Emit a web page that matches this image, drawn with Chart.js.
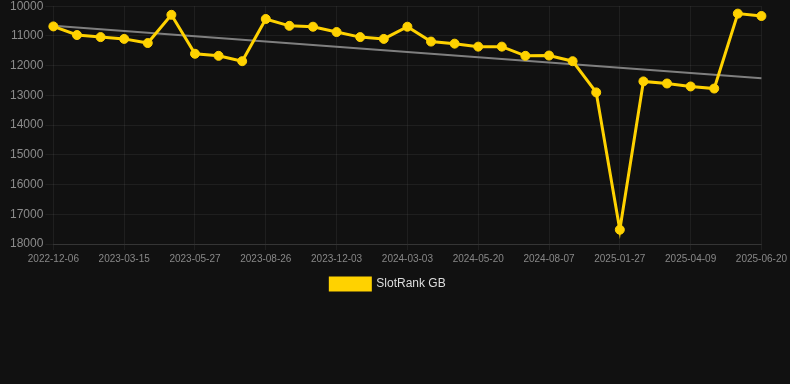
<!DOCTYPE html>
<html><head><meta charset="utf-8">
<script src="https://cdn.jsdelivr.net/npm/chart.js@4"></script>
<style>html,body{margin:0;padding:0;background:#111111;overflow:hidden;}#wrap{width:790px;height:303px;position:relative;top:-3px;}</style>
</head><body>
<div id="wrap"><canvas id="c"></canvas></div>
<script>
const labels = ["2022-12-06","2023-01-08","2023-02-10","2023-03-15","2023-04-08","2023-05-02","2023-05-27","2023-06-26","2023-07-26","2023-08-26","2023-09-28","2023-10-31","2023-12-03","2024-01-03","2024-02-02","2024-03-03","2024-03-29","2024-04-24","2024-05-20","2024-06-18","2024-07-13","2024-08-07","2024-10-01","2024-12-01","2025-01-27","2025-02-20","2025-03-16","2025-04-09","2025-05-03","2025-05-27","2025-06-20"];
const rankValues = [10680,10970,11040,11100,11240,10290,11600,11670,11850,10430,10660,10690,10870,11040,11100,10690,11190,11260,11360,11360,11670,11660,11850,12900,17520,12530,12600,12700,12770,10250,10330];
const trendStart = 10660;
const trendEnd = 12420;
const yTicks = [10000,11000,12000,13000,14000,15000,16000,17000,18000];
const trend = labels.map((_, i) => i === 0 ? trendStart : (i === labels.length - 1 ? trendEnd : null));

new Chart(document.getElementById('c'), {
  type: 'line',
  data: {
    labels: labels,
    datasets: [
      {label: 'SlotRank GB', data: rankValues, borderColor: '#FFD200', backgroundColor: '#FFD200',
       borderWidth: 3, pointRadius: 4.5, pointBorderWidth: 1, pointHoverRadius: 4.5, tension: 0, order: 1},
      {label: 'trend', data: trend, spanGaps: true, borderColor: 'rgba(140,140,140,0.9)', borderWidth: 2,
       pointRadius: 0, order: 2}
    ]
  },
  options: {
    responsive: true, maintainAspectRatio: false, animation: false,
    layout: {padding: {left: 8, right: 22, top: -15, bottom: 0}},
    plugins: {
      legend: {position: 'bottom', labels: {color: '#dddddd', font: {family: 'Liberation Sans, Arial', size: 12}, boxWidth: 40, boxHeight: 12,
        filter: (item) => item.text === 'SlotRank GB'}},
      tooltip: {enabled: false}
    },
    scales: {
      x: {offset: false, grid: {color: 'rgba(255,255,255,0.06)', drawTicks: true, tickLength: 6},
          border: {color: 'rgba(255,255,255,0.1)'},
          ticks: {color: '#888888', font: {family: 'Liberation Sans, Arial', size: 10}, maxRotation: 0, autoSkip: true,
                  callback: function(v, i){ return i % 3 === 0 ? labels[i] : null; }}},
      y: {reverse: true, min: 10000, max: 18000,
          grid: {color: 'rgba(255,255,255,0.06)', tickLength: 8}, border: {display: false},
          afterBuildTicks: (s) => { s.ticks = yTicks.map(v => ({value: v})); },
          ticks: {color: '#8c8c8c', font: {family: 'Liberation Sans, Arial', size: 12}, padding: 2,
                  callback: (v) => String(v)}}
    }
  }
});
</script>
</body></html>
